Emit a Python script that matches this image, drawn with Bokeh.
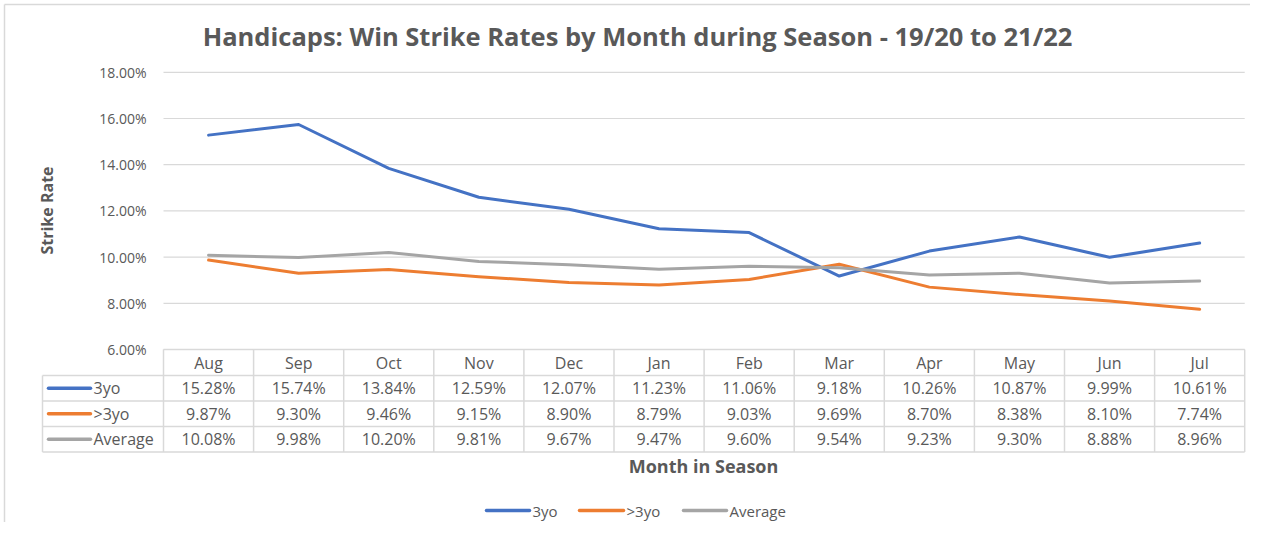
from bokeh.plotting import figure
from bokeh.models import Range1d
from bokeh.core.properties import value
from bokeh.embed import file_html
from bokeh.resources import INLINE
import math

# ---------------- data ----------------
months = ["Aug", "Sep", "Oct", "Nov", "Dec", "Jan", "Feb", "Mar", "Apr", "May", "Jun", "Jul"]
three_yo = [15.28, 15.74, 13.84, 12.59, 12.07, 11.23, 11.06, 9.18, 10.26, 10.87, 9.99, 10.61]
over_three = [9.87, 9.30, 9.46, 9.15, 8.90, 8.79, 9.03, 9.69, 8.70, 8.38, 8.10, 7.74]
average = [10.08, 9.98, 10.20, 9.81, 9.67, 9.47, 9.60, 9.54, 9.23, 9.30, 8.88, 8.96]
series_names = ["3yo", ">3yo", "Average"]
y_ticks = [6, 8, 10, 12, 14, 16, 18]
title_text = "Handicaps: Win Strike Rates by Month during Season - 19/20 to 21/22"
y_title = "Strike Rate"
x_title = "Month in Season"

# ---------------- styling / layout ----------------
colors = ["#4472C4", "#ED7D31", "#A5A5A5"]
TXT = "#595959"
GRID = "#D9D9D9"
FONT = "Open Sans"
W, H = 1250, 522

COL0, COLW = 163.0, 90.1
Y6, PXP = 349.0, 23.1


def X(rx):
    return (rx - COL0) / COLW - 0.5


def Y(ry):
    return 6 + (Y6 - ry) / PXP


p = figure(width=W, height=H, output_backend="svg", toolbar_location=None,
           x_range=Range1d(X(0), X(W)), y_range=Range1d(Y(H), Y(0)),
           min_border=0, x_axis_location=None, y_axis_location=None)
p.grid.visible = False
p.outline_line_color = None
p.background_fill_color = "white"
p.border_fill_color = "white"

# outer chart border (top and left)
p.segment(x0=[X(4)], y0=[Y(4)], x1=[X(W)], y1=[Y(4)], line_color=GRID, line_width=1.5)
p.segment(x0=[X(4)], y0=[Y(4)], x1=[X(4)], y1=[Y(H)], line_color=GRID, line_width=1.5)

n = len(months)
right = COL0 + COLW * n

# gridlines
p.segment(x0=[X(COL0)] * len(y_ticks), x1=[X(right)] * len(y_ticks), y0=y_ticks, y1=y_ticks,
          line_color=GRID, line_width=1.2)
# y tick labels
p.text(x=[X(146)] * len(y_ticks), y=y_ticks, text=[f"{t:.2f}%" for t in y_ticks],
       text_align="right", text_baseline="middle", text_color=TXT,
       text_font=value(FONT), text_font_size="14px")

# series lines
xs = list(range(n))
for vals, c in zip([three_yo, over_three, average], colors):
    p.line(x=xs, y=vals, line_color=c, line_width=3, line_join="round", line_cap="round")

# ---------------- data table ----------------
row_edges = [349, 375, 400.5, 426, 451.5]
tab_left = 42
hx0 = [X(COL0)] + [X(tab_left)] * 4
p.segment(x0=hx0, x1=[X(right)] * 5, y0=[Y(r) for r in row_edges], y1=[Y(r) for r in row_edges],
          line_color=GRID, line_width=1.5)
vx = [X(COL0 + COLW * k) for k in range(n + 1)]
p.segment(x0=vx, x1=vx, y0=[Y(row_edges[0])] * (n + 1), y1=[Y(row_edges[-1])] * (n + 1),
          line_color=GRID, line_width=1.5)
p.segment(x0=[X(tab_left)], x1=[X(tab_left)], y0=[Y(row_edges[1])], y1=[Y(row_edges[-1])],
          line_color=GRID, line_width=1.5)

TBL = "16px"
centers = [Y((row_edges[i] + row_edges[i + 1]) / 2) for i in range(4)]
p.text(x=xs, y=[centers[0]] * n, text=months, text_align="center", text_baseline="middle",
       text_color=TXT, text_font=value(FONT), text_font_size=TBL)
for r, vals in enumerate([three_yo, over_three, average]):
    p.text(x=xs, y=[centers[r + 1]] * n, text=[f"{v:.2f}%" for v in vals],
           text_align="center", text_baseline="middle", text_color=TXT,
           text_font=value(FONT), text_font_size=TBL)
for r, (name, c) in enumerate(zip(series_names, colors)):
    yc = centers[r + 1]
    p.segment(x0=[X(48)], x1=[X(90)], y0=[yc], y1=[yc], line_color=c, line_width=3.5, line_cap="round")
    p.text(x=[X(93)], y=[yc], text=[name], text_align="left", text_baseline="middle",
           text_color=TXT, text_font=value(FONT), text_font_size=TBL)

# ---------------- titles ----------------
p.text(x=[X(637)], y=[Y(35)], text=[title_text], text_align="center", text_baseline="middle",
       text_color=TXT, text_font=value(FONT), text_font_size="25.5px", text_font_style="bold")
p.text(x=[X(46)], y=[Y(210)], text=[y_title], angle=math.pi / 2, text_align="center",
       text_baseline="middle", text_color=TXT, text_font=value(FONT), text_font_size="16px",
       text_font_style="bold")
p.text(x=[X(703)], y=[Y(465)], text=[x_title], text_align="center", text_baseline="middle",
       text_color=TXT, text_font=value(FONT), text_font_size="18px", text_font_style="bold")

# ---------------- legend ----------------
leg_y = Y(510)
leg_line = [(486, 529, 532), (579, 623, 626), (683, 726, 729)]
for (x0, x1, tx), name, c in zip(leg_line, series_names, colors):
    p.segment(x0=[X(x0)], x1=[X(x1)], y0=[leg_y], y1=[leg_y], line_color=c, line_width=3.5,
              line_cap="round")
    p.text(x=[X(tx)], y=[leg_y], text=[name], text_align="left", text_baseline="middle",
           text_color=TXT, text_font=value(FONT), text_font_size="15px")

open("out.html", "w").write(file_html(p, INLINE))
